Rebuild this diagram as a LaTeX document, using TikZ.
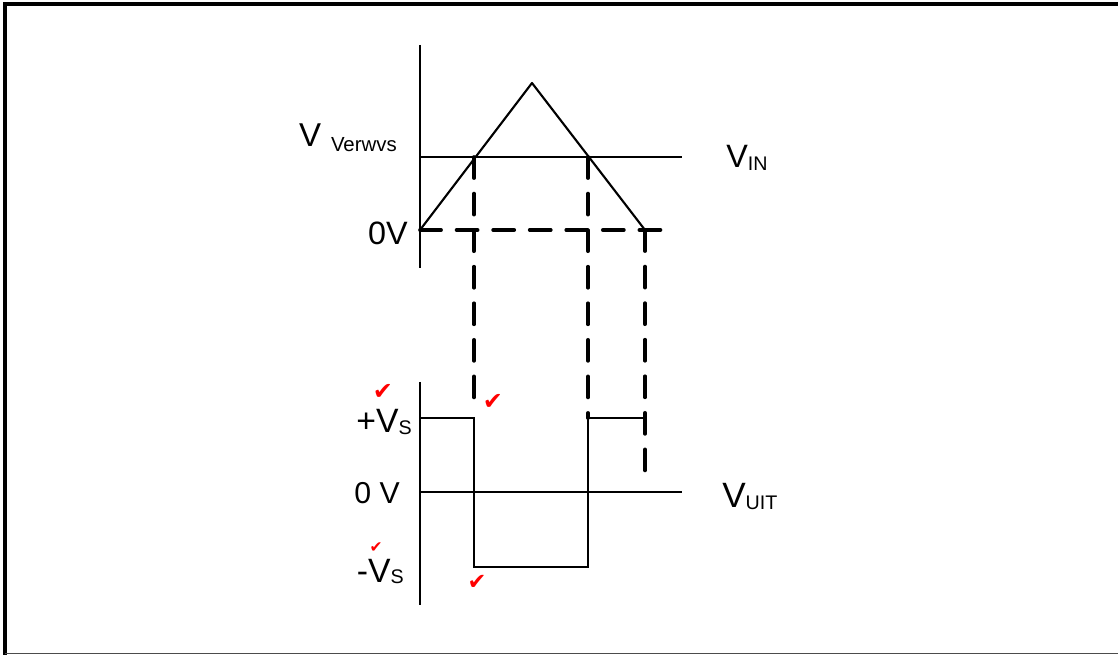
\documentclass[tikz,border=0pt]{standalone}
\usepackage{fontspec}
\usepackage{xcolor}
\setmainfont{Liberation Sans}
\newfontfamily\checkfont{DejaVu Sans}

\begin{document}
\begin{tikzpicture}[x=0.025cm,y=-0.025cm]
\useasboundingbox (0,0) rectangle (1118,655);
\draw[line width=2.6pt] (5,655) -- (5,4) -- (1118,4);
\draw[line width=1pt, black!70] (5,653.5) -- (1118,653.5);

% top graph
\coordinate (A) at (420,45);
\coordinate (B) at (420,268);
\coordinate (O) at (420,230);
\coordinate (P) at (532,83);
\coordinate (E) at (645,230);
\coordinate (C1) at (474,157);
\coordinate (C2) at (588,157);
\coordinate (R) at (682,157);
\coordinate (Z) at (670,230);

\draw[line width=1.9pt] (A) -- (B);
\draw[line width=1.5pt] (O |- R) -- (R);
\draw[line width=1.5pt, line join=round] (O) -- (P) -- (E);
\draw[line width=2.6pt, line cap=round, dash pattern=on 15pt off 11pt] (O) -- (Z);

% bottom graph
\coordinate (D) at (420,382);
\coordinate (F) at (420,605);
\coordinate (S1) at (474,418);
\coordinate (S2) at (474,567);
\coordinate (S3) at (588,567);
\coordinate (S4) at (588,418);
\coordinate (S5) at (645,418);
\coordinate (N) at (682,492);

\draw[line width=1.9pt] (D) -- (F);
\draw[line width=1.5pt] (F |- N) -- (N);
\draw[line width=1.5pt] (F |- S1) -- (S1) -- (S2) -- (S3) -- (S4) -- (S5);

\draw[line width=2.6pt, line cap=round, dash pattern=on 15pt off 11pt] (C1) -- (474,408);
\draw[line width=2.6pt, line cap=round, dash pattern=on 15pt off 11pt] (C2) -- (S4);
\draw[line width=2.6pt, line cap=round, dash pattern=on 15pt off 11pt] (E) -- (645,483);

% labels
\node[anchor=base east, inner sep=0] (verw) at (397,147) {\fontsize{23.5}{26}\selectfont V\hspace{7pt}\raisebox{-3.5pt}{\fontsize{14.5}{16}\selectfont Verwvs}};
\node[anchor=base east, inner sep=0] (nul1) at (408,245) {\fontsize{23}{26}\selectfont 0V};
\node[anchor=base west, inner sep=0] (vin) at (726,168) {\fontsize{23}{26}\selectfont V\raisebox{-2pt}{\fontsize{14}{16}\selectfont IN}};
\node[anchor=base east, inner sep=0] (pvs) at (412,433) {\fontsize{24}{26}\selectfont +V\raisebox{-1pt}{\fontsize{14}{16}\selectfont S}};
\node[anchor=base east, inner sep=0] (nul2) at (400,503) {\fontsize{21.5}{24}\selectfont 0 V};
\node[anchor=base east, inner sep=0] (mvs) at (404,582) {\fontsize{24}{26}\selectfont -V\raisebox{-1pt}{\fontsize{14}{16}\selectfont S}};
\node[anchor=base west, inner sep=0] (vuit) at (722,507) {\fontsize{25}{26}\selectfont V\raisebox{-2pt}{\fontsize{14}{16}\selectfont UIT}};

% checkmarks
\node[red, inner sep=0] (ok1) at (383,392) {\checkfont\fontsize{17}{18}\selectfont ✔};
\node[red, inner sep=0] (ok2) at (493,402) {\checkfont\fontsize{17}{18}\selectfont ✔};
\node[red, inner sep=0] (ok3) at (376,548) {\checkfont\fontsize{11}{12}\selectfont ✔};
\node[red, inner sep=0] (ok4) at (477,582) {\checkfont\fontsize{16}{18}\selectfont ✔};
\end{tikzpicture}
\end{document}
